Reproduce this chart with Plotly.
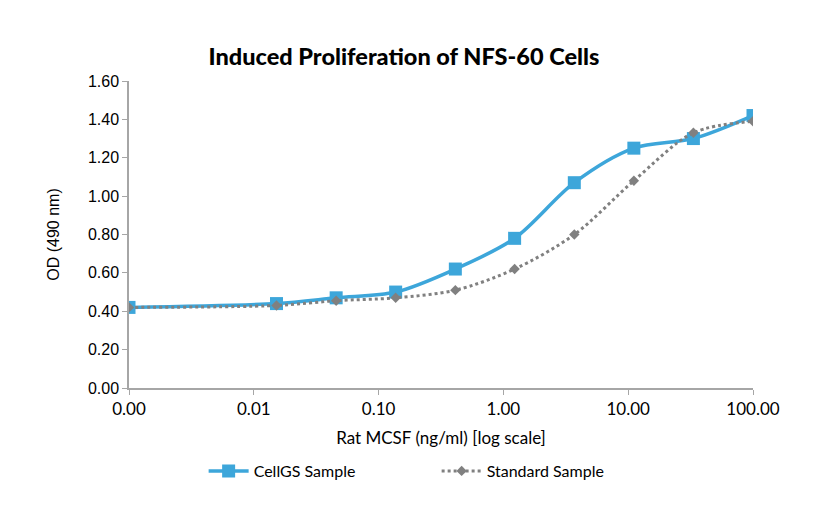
import plotly.graph_objects as go

# Rat MCSF concentration (ng/ml); the zero-dose well is drawn at the axis start
conc = [0.001, 0.0152, 0.0457, 0.137, 0.412, 1.23, 3.70, 11.1, 33.3, 100.0]
cellgs_od = [0.42, 0.44, 0.47, 0.50, 0.62, 0.78, 1.07, 1.25, 1.30, 1.42]
standard_od = [0.42, 0.43, 0.455, 0.47, 0.51, 0.62, 0.80, 1.08, 1.33, 1.39]

x_tickvals = [0.001, 0.01, 0.1, 1, 10, 100]
x_ticktext = ["0.00", "0.01", "0.10", "1.00", "10.00", "100.00"]
y_tickvals = [0.0, 0.2, 0.4, 0.6, 0.8, 1.0, 1.2, 1.4, 1.6]

BLUE = "#3DA6DA"
GREY = "#808080"
AXIS = "#A6A6A6"
SANS = "Liberation Sans, Arial, sans-serif"
HUMAN = "Lato, Open Sans, sans-serif"

fig = go.Figure()
fig.add_trace(go.Scatter(
    x=conc, y=cellgs_od, name="CellGS Sample",
    mode="lines+markers",
    line=dict(color=BLUE, width=3.5, shape="spline", smoothing=0.9),
    marker=dict(symbol="square", size=13, color=BLUE),
))
fig.add_trace(go.Scatter(
    x=conc, y=standard_od, name="Standard Sample",
    mode="lines+markers",
    line=dict(color=GREY, width=3, dash="dot", shape="spline", smoothing=0.9),
    marker=dict(symbol="diamond", size=8, color=GREY),
))

fig.update_layout(
    width=813, height=513,
    paper_bgcolor="white", plot_bgcolor="white",
    margin=dict(l=121, r=68, t=73, b=133),
    title=dict(
        text="Induced Proliferation of NFS-60 Cells",
        x=0.487, xanchor="center", y=0.905, yanchor="middle",
        font=dict(family=HUMAN, size=23.5, color="black", weight=900),
    ),
    showlegend=True,
    legend=dict(
        orientation="h", x=0.493, xanchor="center", y=-0.215, yanchor="top",
        font=dict(family=HUMAN, size=16, color="black"),
        itemwidth=40, entrywidth=178, entrywidthmode="pixels",
    ),
)
fig.update_xaxes(
    type="log", range=[-3, 2],
    tickvals=x_tickvals, ticktext=x_ticktext,
    showgrid=False, zeroline=False,
    showline=True, linecolor=AXIS, linewidth=1.5,
    ticks="outside", ticklen=5, tickcolor=AXIS,
    tickfont=dict(family=HUMAN, size=17, color="black"),
    title=dict(text="Rat MCSF (ng/ml) [log scale]", standoff=14,
               font=dict(family=HUMAN, size=17, color="black")),
)
fig.update_yaxes(
    range=[0, 1.6], tickvals=y_tickvals, tickformat=".2f",
    showgrid=False, zeroline=False,
    showline=True, linecolor=AXIS, linewidth=1.5,
    ticks="outside", ticklen=5, tickcolor=AXIS,
    tickfont=dict(family=SANS, size=16, color="black"),
    title=dict(text="OD (490 nm)", standoff=24,
               font=dict(family=SANS, size=16, color="black")),
)

fig.write_html("out.html")
